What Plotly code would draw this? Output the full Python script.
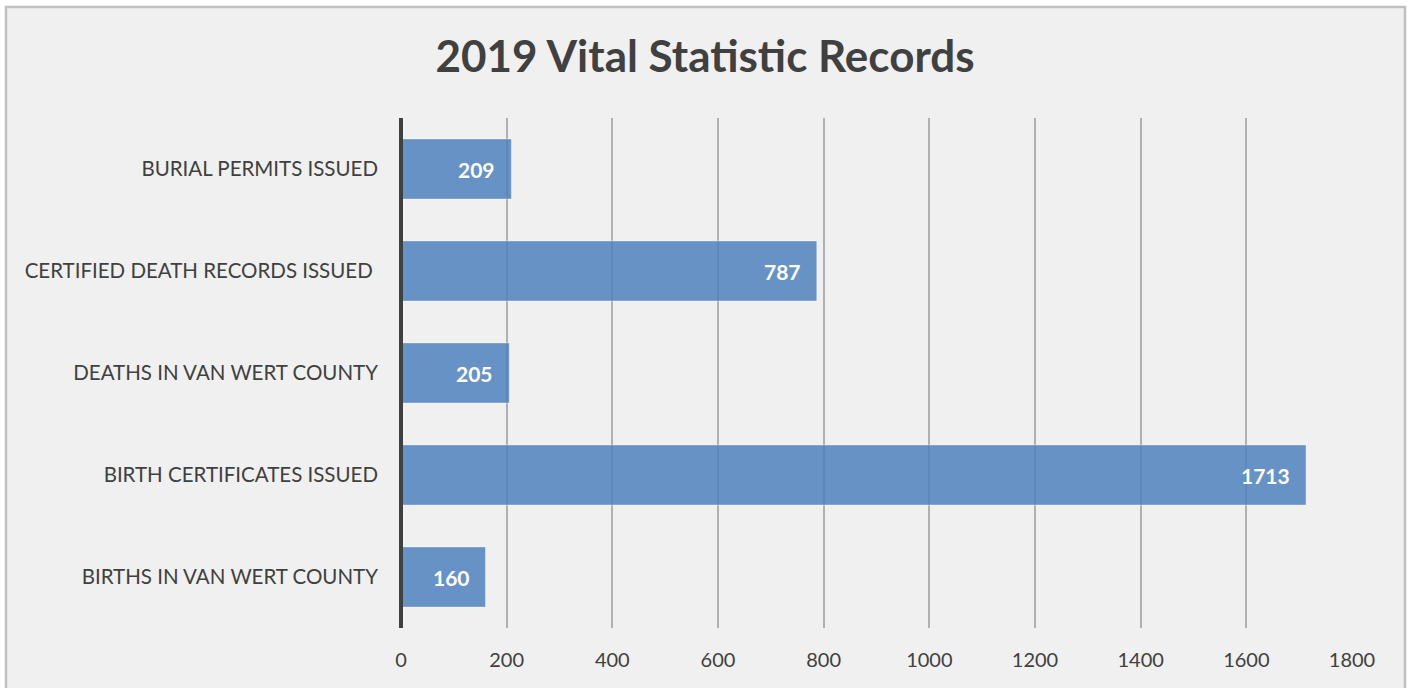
import plotly.graph_objects as go

categories = [
    "BIRTHS IN VAN WERT COUNTY",
    "BIRTH CERTIFICATES ISSUED",
    "DEATHS IN VAN WERT COUNTY",
    "CERTIFIED DEATH RECORDS ISSUED ",
    "BURIAL PERMITS ISSUED",
]
values = [160, 1713, 205, 787, 209]
tick_vals = [0, 200, 400, 600, 800, 1000, 1200, 1400, 1600, 1800]
title_text = "2019 Vital Statistic Records"

FONT = "Lato, 'Open Sans', sans-serif"

fig = go.Figure(
    go.Bar(
        x=values,
        y=categories,
        orientation="h",
        marker=dict(color="rgba(79,129,189,0.85)", line=dict(color="rgba(255,255,255,0.4)", width=1)),
        hoverinfo="x+y",
    )
)

annotations = [
    dict(
        x=v, y=c, xref="x", yref="y",
        text=str(v), showarrow=False,
        xanchor="right", yanchor="middle", xshift=-14,
        font=dict(family=FONT, size=21, color="white", weight="bold"),
    )
    for c, v in zip(categories, values)
]

fig.update_layout(
    width=1408,
    height=688,
    paper_bgcolor="white",
    plot_bgcolor="rgba(0,0,0,0)",
    margin=dict(l=401, r=56, t=118, b=60),
    bargap=0.41,
    showlegend=False,
    title=dict(
        text=title_text,
        x=705 / 1408,
        xref="container",
        xanchor="center",
        y=1 - 57 / 688,
        yref="container",
        yanchor="middle",
        font=dict(family=FONT, size=44, color="#404040", weight="bold"),
    ),
    font=dict(family=FONT),
    xaxis=dict(
        range=[0, 1800],
        tickvals=tick_vals,
        ticktext=[str(t) for t in tick_vals],
        showgrid=True,
        gridcolor="#b0b0b0",
        gridwidth=2,
        zeroline=False,
        showline=False,
        ticks="",
        tickfont=dict(family=FONT, size=20, color="#404040"),
        ticklabelstandoff=18,
        fixedrange=True,
    ),
    yaxis=dict(
        showgrid=False,
        zeroline=False,
        showline=False,
        ticks="",
        tickfont=dict(family=FONT, size=20.5, color="#404040"),
        ticklabelstandoff=22,
        fixedrange=True,
    ),
    annotations=annotations,
    shapes=[
        dict(
            type="rect", xref="paper", yref="paper",
            x0=(6 - 401) / 951, x1=(1405 - 401) / 951,
            y0=-0.3, y1=(628 - 7) / 510,
            fillcolor="#f0f0f0", line=dict(color="#c0c0c0", width=2.5),
            layer="below",
        ),
        dict(
            type="line", xref="paper", yref="paper",
            x0=0, x1=0, y0=0, y1=1.0,
            line=dict(color="#404040", width=4),
            layer="above",
        ),
    ],
)

fig.write_html(
    "out.html",
    config={"displayModeBar": False},
    post_script="document.body.style.margin='0';document.body.style.overflow='hidden';",
)
